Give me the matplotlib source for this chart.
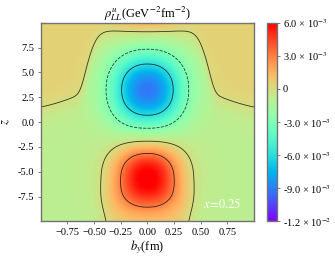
import numpy as np
import matplotlib
matplotlib.use("Agg")
import matplotlib.pyplot as plt
from matplotlib.ticker import FuncFormatter

plt.rcParams['font.family'] = ['Liberation Serif', 'DejaVu Serif']
plt.rcParams['mathtext.fontset'] = 'stix'

#------------------------------------------------------------------
# shape of the density
# blobs: centre z, amplitude, z-width, b-width
BLOB_Z = [3.25, -5.5, 12.5]
BLOB_AMP = [-0.0083, 0.0071, 0.0040]
BLOB_SZ = [3.6, 3.1, 2.5]
BLOB_SB = [0.335, 0.31, 0.30]
BLOB_POW = [2.2, 2.2, 2.2]
# slowly varying background: value above / below the dividing line
BG_TOP = 0.0005
BG_BOT = -0.0009
# dividing line z0(b): base height + narrow step + wide shoulder
Z0_BASE, Z0_STEP, Z0_STEP_W, Z0_SHOULDER, Z0_SHOULDER_W = 0.9, 6.2, 0.57, 1.8, 0.85
# positive skirt under the red blob
SKIRT_AMP, SKIRT_BW, SKIRT_Z, SKIRT_ZW = 0.0013, 0.43, -7.0, 1.2

LEVELS = [-0.006, -0.003, 0.0, 0.003]
LSTYLES = ['solid', 'dashed', 'solid', 'solid']
CBAR_TICKS = [6e-3, 3e-3, 0, -3e-3, -6e-3, -9e-3, -1.2e-2]
CBAR_LABELS = [u"6.0 \u00d7 10$^{-3}$", u"3.0 \u00d7 10$^{-3}$", "0",
               u"-3.0 \u00d7 10$^{-3}$", u"-6.0 \u00d7 10$^{-3}$",
               u"-9.0 \u00d7 10$^{-3}$", u"-1.2 \u00d7 10$^{-2}$"]
VMIN, VMAX = -0.012, 0.006
#------------------------------------------------------------------

b = np.linspace(-1, 1, 401)
z = np.linspace(-10, 10, 401)
B, Z = np.meshgrid(b, z)

z0 = (Z0_BASE + Z0_STEP * np.exp(-(np.abs(B) / Z0_STEP_W) ** 10)
      + Z0_SHOULDER * np.exp(-(np.abs(B) / Z0_SHOULDER_W) ** 4))
t = np.tanh((Z - z0) / 1.2)
rho = 0.5 * (BG_TOP + BG_BOT) + 0.5 * (BG_TOP - BG_BOT) * t
for zc, a, sz, sb, p in zip(BLOB_Z, BLOB_AMP, BLOB_SZ, BLOB_SB, BLOB_POW):
    rho += a * np.exp(-np.abs((Z - zc) / sz) ** p - np.abs(B / sb) ** p)
rho += SKIRT_AMP * np.exp(-(np.abs(B) / SKIRT_BW) ** 6) * 0.5 * (1 - np.tanh((Z - SKIRT_Z) / SKIRT_ZW))

fig = plt.figure(figsize=(3.35, 2.59), dpi=100)
ax = fig.add_axes([0.1215, 0.1448, 0.637, 0.7676])
cax = fig.add_axes([0.798, 0.1448, 0.028, 0.7676])

mesh = ax.pcolormesh(B, Z, rho, cmap='rainbow', vmin=VMIN, vmax=VMAX, shading='auto', rasterized=True)
ax.contour(B, Z, rho, levels=LEVELS, colors='k', linewidths=0.6, linestyles=LSTYLES, alpha=0.75)

ax.set_xlim(-1, 1)
ax.set_ylim(-10, 10)
ax.set_xticks([-0.75, -0.5, -0.25, 0, 0.25, 0.5, 0.75])
ax.set_yticks([-7.5, -5, -2.5, 0, 2.5, 5, 7.5])
ax.xaxis.set_major_formatter(FuncFormatter(lambda v, p: ("%.2f" % v).replace("-", u"\u2212")))
ax.yaxis.set_major_formatter(FuncFormatter(lambda v, p: "%.1f" % v))
ax.tick_params(labelsize=7.5, length=2.5, width=0.6, color='0.4', pad=2)
for s in ax.spines.values():
    s.set_color('0.45')
    s.set_linewidth(1.0)

ax.set_xlabel(r"$b_y$(fm)", fontsize=9, labelpad=1)
ax.set_ylabel(r"$z$", fontsize=9, labelpad=4)
ax.set_title(r"$\rho^{u}_{LL}$(GeV$^{-2}$fm$^{-2}$)", fontsize=9, pad=3)
ax.text(0.88, -8.2, r"$x\!=\!0.25$", color='white', fontsize=9, ha='right', va='center')

cbar = fig.colorbar(mesh, cax=cax, ticks=CBAR_TICKS)
cbar.ax.set_yticklabels(CBAR_LABELS)
cbar.ax.tick_params(labelsize=7.5, length=2.5, width=0.6, color='0.4', pad=2)
cbar.outline.set_edgecolor('0.45')
cbar.outline.set_linewidth(1.0)

plt.savefig("out.png", dpi=100)
